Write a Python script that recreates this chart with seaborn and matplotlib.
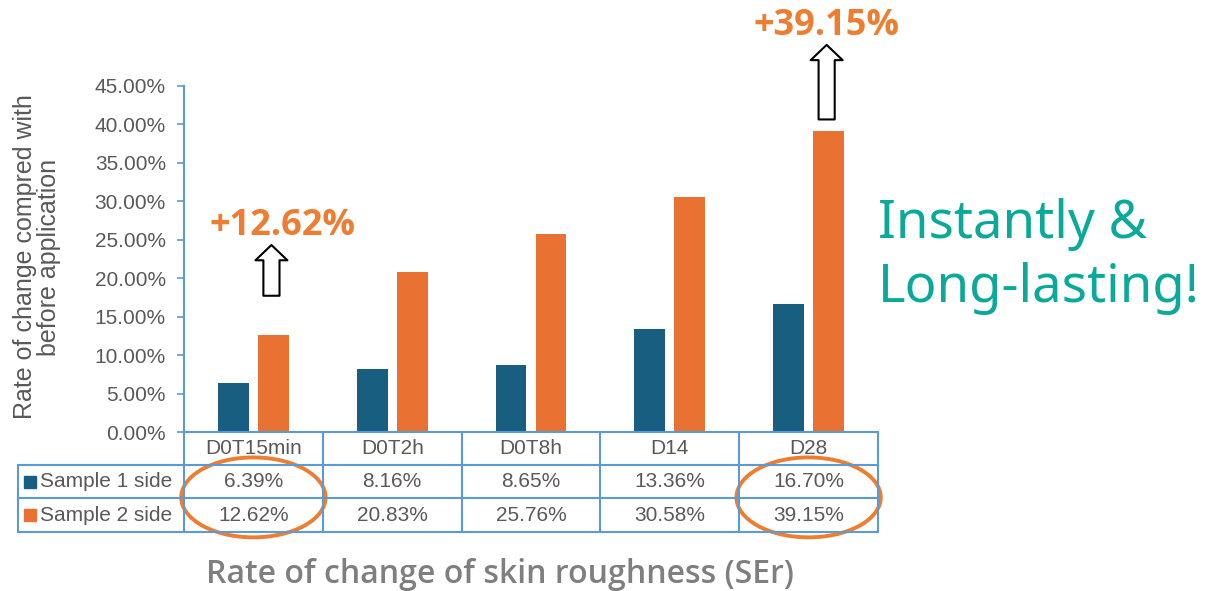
import numpy as np
import pandas as pd
import matplotlib
matplotlib.use('Agg')
import matplotlib.pyplot as plt
import matplotlib.transforms as mtransforms
from matplotlib.patches import Ellipse
import seaborn as sns

# data
categories = ['D0T15min', 'D0T2h', 'D0T8h', 'D14', 'D28']
series_names = ['Sample 1 side', 'Sample 2 side']
sample1 = [6.39, 8.16, 8.65, 13.36, 16.70]
sample2 = [12.62, 20.83, 25.76, 30.58, 39.15]
yticks = [0, 5, 10, 15, 20, 25, 30, 35, 40, 45]
highlight = [0, 4]

colors = ['#175e80', '#e97132']
grid_blue = '#5b9bd5'
text_gray = '#595959'
hl_orange = '#ed7d31'
humanist = ['Open Sans', 'Noto Sans', 'DejaVu Sans']

df = pd.DataFrame({
    'Time': categories * 2,
    'Series': [series_names[0]] * len(categories) + [series_names[1]] * len(categories),
    'Value': sample1 + sample2,
})

sns.set_theme(style='white')
plt.rcParams['font.family'] = ['Liberation Sans', 'DejaVu Sans']

fig = plt.figure(figsize=(12.25, 5.91), dpi=100)
ax = fig.add_axes([184 / 1225, 159 / 591, 694 / 1225, 346 / 591])

sns.barplot(data=df, x='Time', y='Value', hue='Series', palette=colors,
            width=0.576, gap=0.23, ax=ax, legend=False, linewidth=0,
            errorbar=None, saturation=1)

ax.set_xlim(-0.5, len(categories) - 0.5)
ax.set_ylim(0, 45)
ax.set_yticks(yticks)
ax.set_yticklabels([f'{v:.2f}%' for v in yticks])
ax.tick_params(axis='y', direction='out', length=5, width=1.2, color=grid_blue,
               labelsize=15, labelcolor=text_gray, pad=8, left=True)
ax.tick_params(axis='x', bottom=False, labelbottom=False)
ax.set_xlabel('')
ax.set_ylabel('')
for s in ['top', 'right']:
    ax.spines[s].set_visible(False)
for s in ['left', 'bottom']:
    ax.spines[s].set_color(grid_blue)
    ax.spines[s].set_linewidth(1.5)

# data table under the axis
trans = mtransforms.blended_transform_factory(ax.transData, ax.transAxes)
rows = [0, -0.0954, -0.1908, -0.289]
left = -1.694
right = len(categories) - 0.5
kw = dict(transform=trans, clip_on=False, color=grid_blue, lw=1.5)
for r in rows[1:]:
    ax.plot([left, right], [r, r], **kw)
ax.plot([left, left], [rows[1], rows[3]], **kw)
for xb in np.arange(-0.5, len(categories), 1.0):
    ax.plot([xb, xb], [rows[0], rows[3]], **kw)

for i, c in enumerate(categories):
    ax.text(i, (rows[0] + rows[1]) / 2, c, transform=trans, ha='center', va='center',
            fontsize=15, color=text_gray)
for k, vals in enumerate([sample1, sample2]):
    yc = (rows[k + 1] + rows[k + 2]) / 2
    for i, v in enumerate(vals):
        ax.text(i, yc, f'{v:.2f}%', transform=trans, ha='center', va='center',
                fontsize=15, color=text_gray)
    ax.plot([-1.608], [yc], marker='s', ms=8, color=colors[k], transform=trans,
            clip_on=False, ls='none')
    ax.text(-1.535, yc, series_names[k], transform=trans, ha='left', va='center',
            fontsize=15, color=text_gray)

# highlight ellipses
for i in highlight:
    ax.add_patch(Ellipse((i, -0.189), 1.04, 0.231, transform=trans, fill=False,
                         ec=hl_orange, lw=2.8, clip_on=False))

# arrows and labels above the highlighted bars
arrow_gap = [5.1, 1.5]
arrow_len = [6.6, 9.7]
label_gap = [14.2, 13.7]
label_dx = [0.21, 0.13]
for j, i in enumerate(highlight):
    v = sample2[i]
    xa = i + 0.13
    ax.annotate('', xy=(xa, v + arrow_gap[j] + arrow_len[j]), xytext=(xa, v + arrow_gap[j]),
                arrowprops=dict(arrowstyle='simple,head_length=0.55,head_width=1.15,tail_width=0.58',
                                fc='white', ec='black', lw=1.5, mutation_scale=20,
                                shrinkA=0, shrinkB=0),
                annotation_clip=False)
    ax.text(i + label_dx[j], v + label_gap[j], f'+{v:.2f}%', ha='center', va='center',
            fontsize=26, fontweight='bold', color=hl_orange,
            family=humanist, clip_on=False)

# side message
teal = '#0aa99a'
fig.text(878 / 1225, 1 - 238 / 591, 'Instantly &', ha='left', va='baseline',
         fontsize=38, color=teal, family=['Noto Sans', 'DejaVu Sans'])
fig.text(878 / 1225, 1 - 302 / 591, 'Long-lasting!', ha='left', va='baseline',
         fontsize=38, color=teal, family=['Noto Sans', 'DejaVu Sans'])

fig.text(37 / 1225, 1 - 257 / 591, 'Rate of change compred with\nbefore application',
         rotation=90, ha='center', va='center', fontsize=18, color=text_gray,
         linespacing=1.0)

fig.text(500 / 1225, 1 - 583 / 591, 'Rate of change of skin roughness (SEr)',
         ha='center', va='baseline', fontsize=23, fontweight='semibold', color='#7f7f7f',
         family=humanist)

fig.savefig('out.png', dpi=100)
